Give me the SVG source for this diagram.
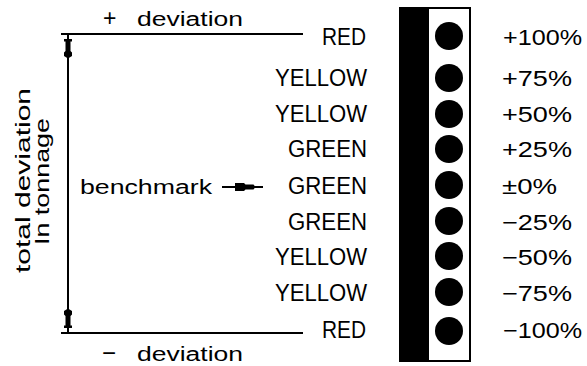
<svg xmlns="http://www.w3.org/2000/svg" width="587" height="366" viewBox="0 0 587 366">
<style>
.t{font-family:"Liberation Sans",Arial,sans-serif;fill:#000}
.lab{font-size:23px;text-anchor:end}
.pct{font-size:22px}
.sm{font-size:20px}
.ln{stroke:#000;stroke-width:2;fill:none}
</style>
<defs>
<path id="ah" d="M64,39 h8 v2.5 h-1.5 v9.5 l1.5,1.5 v3.5 l-4,2.5 l-4,-2.5 v-3.5 l1.5,-1.5 v-9.5 h-1.5 z" fill="#000"/>
</defs>
<g id="connectors">
<line class="ln" x1="61" y1="34" x2="303" y2="34"/>
<line class="ln" x1="61" y1="333" x2="303" y2="333"/>
<line class="ln" x1="68" y1="34" x2="68" y2="333"/>
<use href="#ah"/>
<use href="#ah" transform="translate(0,367) scale(1,-1)"/>
<line class="ln" x1="222" y1="187" x2="263" y2="187"/>
<path d="M235,183 h9 l1.5,1.5 h8 l2,2.5 l-2,2.5 h-8 l-1.5,1.5 h-9 z" fill="#000"/>
</g>
<g id="plus-deviation"><text class="t sm" y="26"><tspan x="103" style="font-size:23px">+</tspan> <tspan x="137" textLength="106" lengthAdjust="spacingAndGlyphs">deviation</tspan></text></g>
<g id="minus-deviation"><text class="t sm" y="361"><tspan x="102" style="font-size:24px">−</tspan> <tspan x="137" textLength="106" lengthAdjust="spacingAndGlyphs">deviation</tspan></text></g>
<g id="total-deviation"><text class="t sm" transform="translate(30,273) rotate(-90)" x="0" y="0" textLength="185" lengthAdjust="spacingAndGlyphs">total deviation</text></g>
<g id="in-tonnage"><text class="t sm" transform="translate(49,245) rotate(-90)" x="0" y="0" textLength="127" lengthAdjust="spacingAndGlyphs">In tonnage</text></g>
<g id="benchmark"><text class="t sm" x="80" y="194" textLength="132" lengthAdjust="spacingAndGlyphs">benchmark</text></g>
<g id="labels">
<text class="t lab" x="366" y="45" textLength="44" lengthAdjust="spacingAndGlyphs">RED</text>
<text class="t lab" x="367" y="86" textLength="92" lengthAdjust="spacingAndGlyphs">YELLOW</text>
<text class="t lab" x="367" y="122" textLength="92" lengthAdjust="spacingAndGlyphs">YELLOW</text>
<text class="t lab" x="367" y="157" textLength="79" lengthAdjust="spacingAndGlyphs">GREEN</text>
<text class="t lab" x="367" y="194" textLength="79" lengthAdjust="spacingAndGlyphs">GREEN</text>
<text class="t lab" x="367" y="230" textLength="79" lengthAdjust="spacingAndGlyphs">GREEN</text>
<text class="t lab" x="367" y="265" textLength="92" lengthAdjust="spacingAndGlyphs">YELLOW</text>
<text class="t lab" x="367" y="301" textLength="92" lengthAdjust="spacingAndGlyphs">YELLOW</text>
<text class="t lab" x="366" y="338" textLength="44" lengthAdjust="spacingAndGlyphs">RED</text>
</g>
<g id="signal-box">
<rect x="400" y="8" width="70" height="353" fill="#fff" stroke="#000" stroke-width="2"/>
<rect x="400" y="8" width="29" height="353" fill="#000"/>
<circle cx="449" cy="36" r="14"/>
<circle cx="449" cy="78" r="14"/>
<circle cx="449" cy="114" r="14"/>
<circle cx="449" cy="149" r="14"/>
<circle cx="449" cy="185" r="14"/>
<circle cx="449" cy="221" r="14"/>
<circle cx="449" cy="256" r="14"/>
<circle cx="449" cy="292" r="14"/>
<circle cx="449" cy="331" r="14"/>
</g>
<g id="percentages">
<text class="t pct" x="503" y="45" textLength="79" lengthAdjust="spacingAndGlyphs">+100%</text>
<text class="t pct" x="502" y="86" textLength="70" lengthAdjust="spacingAndGlyphs">+75%</text>
<text class="t pct" x="502" y="122" textLength="70" lengthAdjust="spacingAndGlyphs">+50%</text>
<text class="t pct" x="502" y="157" textLength="70" lengthAdjust="spacingAndGlyphs">+25%</text>
<text class="t pct" x="502" y="194" textLength="55" lengthAdjust="spacingAndGlyphs">±0%</text>
<text class="t pct" x="502" y="230" textLength="70" lengthAdjust="spacingAndGlyphs">−25%</text>
<text class="t pct" x="502" y="265" textLength="70" lengthAdjust="spacingAndGlyphs">−50%</text>
<text class="t pct" x="502" y="301" textLength="70" lengthAdjust="spacingAndGlyphs">−75%</text>
<text class="t pct" x="503" y="338" textLength="79" lengthAdjust="spacingAndGlyphs">−100%</text>
</g>
</svg>
